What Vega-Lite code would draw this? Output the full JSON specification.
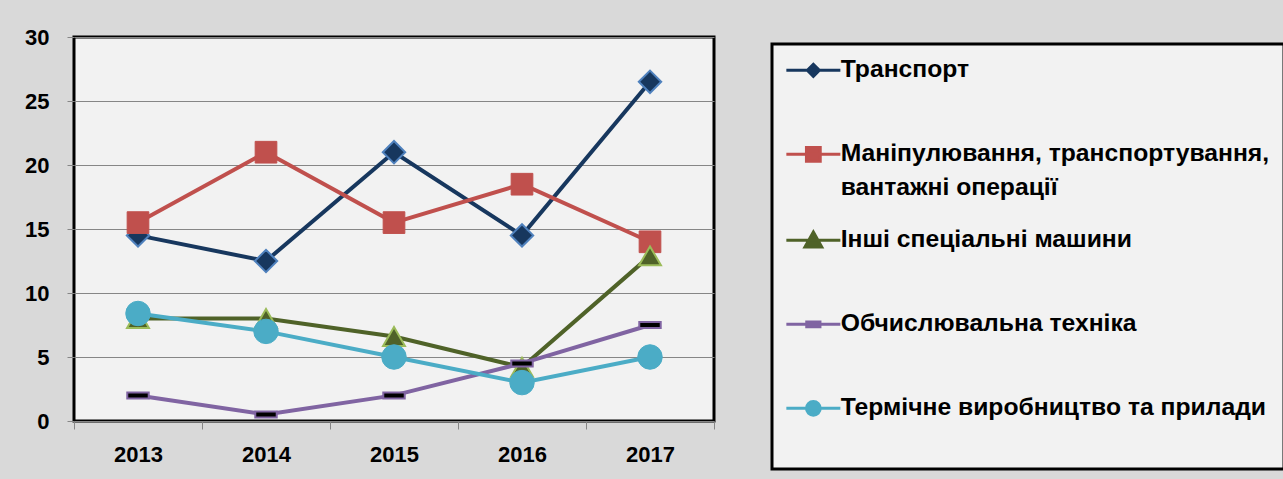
{
  "$schema": "https://vega.github.io/schema/vega-lite/v6.json",
  "autosize": "none",
  "width": 640,
  "height": 384,
  "padding": {"left": 74, "top": 37, "right": 569, "bottom": 58},
  "background": "#d9d9d9",
  "config": {
    "view": {"fill": "#f2f2f2", "stroke": "#000000", "strokeWidth": 3},
    "legend": {"strokeWidth": 3}
  },
  "data": {
    "values": [
      {"year": "2013", "series": "Транспорт", "value": 14.5},
      {"year": "2014", "series": "Транспорт", "value": 12.5},
      {"year": "2015", "series": "Транспорт", "value": 21},
      {"year": "2016", "series": "Транспорт", "value": 14.5},
      {"year": "2017", "series": "Транспорт", "value": 26.5},
      {"year": "2013", "series": "Маніпулювання, транспортування, вантажні операції", "value": 15.5},
      {"year": "2014", "series": "Маніпулювання, транспортування, вантажні операції", "value": 21},
      {"year": "2015", "series": "Маніпулювання, транспортування, вантажні операції", "value": 15.5},
      {"year": "2016", "series": "Маніпулювання, транспортування, вантажні операції", "value": 18.5},
      {"year": "2017", "series": "Маніпулювання, транспортування, вантажні операції", "value": 14},
      {"year": "2013", "series": "Інші спеціальні машини", "value": 8},
      {"year": "2014", "series": "Інші спеціальні машини", "value": 8},
      {"year": "2015", "series": "Інші спеціальні машини", "value": 6.6},
      {"year": "2016", "series": "Інші спеціальні машини", "value": 4.2},
      {"year": "2017", "series": "Інші спеціальні машини", "value": 12.9},
      {"year": "2013", "series": "Обчислювальна техніка", "value": 2},
      {"year": "2014", "series": "Обчислювальна техніка", "value": 0.5},
      {"year": "2015", "series": "Обчислювальна техніка", "value": 2},
      {"year": "2016", "series": "Обчислювальна техніка", "value": 4.5},
      {"year": "2017", "series": "Обчислювальна техніка", "value": 7.5},
      {"year": "2013", "series": "Термічне виробництво та прилади", "value": 8.4},
      {"year": "2014", "series": "Термічне виробництво та прилади", "value": 7},
      {"year": "2015", "series": "Термічне виробництво та прилади", "value": 5},
      {"year": "2016", "series": "Термічне виробництво та прилади", "value": 3},
      {"year": "2017", "series": "Термічне виробництво та прилади", "value": 5}
    ]
  },
  "encoding": {
    "x": {
      "field": "year", "type": "ordinal",
      "scale": {"type": "band", "paddingInner": 0, "paddingOuter": 0},
      "axis": {
        "title": null, "domain": false, "labelAngle": 0,
        "tickBand": "extent", "tickColor": "#868686", "tickSize": 8, "tickWidth": 1,
        "labelFont": "Liberation Sans", "labelFontSize": 22, "labelFontWeight": "bold",
        "labelColor": "#000000", "labelPadding": 15
      }
    },
    "y": {
      "field": "value", "type": "quantitative",
      "scale": {"domain": [0, 30], "nice": false, "zero": true},
      "axis": {
        "title": null, "domain": false, "values": [0, 5, 10, 15, 20, 25, 30],
        "grid": true, "gridColor": "#868686", "gridWidth": 1,
        "tickColor": "#868686", "tickSize": 7, "tickWidth": 1,
        "labelFont": "Liberation Sans", "labelFontSize": 22, "labelFontWeight": "bold",
        "labelColor": "#000000", "labelPadding": 18
      }
    }
  },
  "layer": [
    {
      "mark": {"type": "line", "strokeWidth": 4},
      "encoding": {
        "stroke": {
          "field": "series", "type": "nominal",
          "scale": {
            "domain": ["Транспорт", "Маніпулювання, транспортування, вантажні операції", "Інші спеціальні машини", "Обчислювальна техніка", "Термічне виробництво та прилади"],
            "range": ["#17375e", "#c0504d", "#4f6228", "#8064a2", "#4bacc6"]
          },
          "legend": {
            "title": null, "orient": "none", "legendX": 698, "legendY": 7,
            "padding": 14, "rowPadding": 24,
            "fillColor": "#f2f2f2", "strokeColor": "#000000",
            "labelFont": "Liberation Sans", "labelFontSize": 24.7, "labelFontWeight": "bold",
            "labelColor": "#000000", "labelLimit": 700, "labelOffset": 30,
            "symbolSize": 144, "symbolStrokeWidth": 3, "symbolOpacity": 1,
            "labelExpr": "datum.label == 'Маніпулювання, транспортування, вантажні операції' ? ['Маніпулювання, транспортування,', 'вантажні операції'] : [datum.label, '']",
            "encode": {"labels": {"update": {"lineHeight": {"value": 34}}}}
          }
        }
      }
    },
    {
      "transform": [{"filter": "false"}],
      "mark": {"type": "point", "filled": true, "opacity": 1},
      "encoding": {
        "fill": {
          "field": "series", "type": "nominal",
          "scale": {
            "domain": ["Транспорт", "Маніпулювання, транспортування, вантажні операції", "Інші спеціальні машини", "Обчислювальна техніка", "Термічне виробництво та прилади"],
            "range": ["#17375e", "#c0504d", "#4f6228", "#000000", "#4bacc6"]
          },
          "legend": {
            "title": null, "orient": "none", "legendX": 698, "legendY": 7,
            "padding": 14, "rowPadding": 24,
            "fillColor": "#f2f2f2", "strokeColor": "#000000",
            "labelFont": "Liberation Sans", "labelFontSize": 24.7, "labelFontWeight": "bold",
            "labelColor": "#000000", "labelLimit": 700, "labelOffset": 30,
            "symbolSize": 144, "symbolStrokeWidth": 3, "symbolOpacity": 1,
            "labelExpr": "datum.label == 'Маніпулювання, транспортування, вантажні операції' ? ['Маніпулювання, транспортування,', 'вантажні операції'] : [datum.label, '']",
            "encode": {"labels": {"update": {"lineHeight": {"value": 34}}}}
          }
        },
        "stroke": {"field": "series", "type": "nominal"},
        "shape": {
          "field": "series", "type": "nominal",
          "scale": {
            "domain": ["Транспорт", "Маніпулювання, транспортування, вантажні операції", "Інші спеціальні машини", "Обчислювальна техніка", "Термічне виробництво та прилади"],
            "range": [
              "M-2,0H7M1.5,0L2.5,-1L3.5,0L2.5,1Z",
              "M-2,0H7M1.35,-1.15H3.65V1.15H1.35Z",
              "M-2,0H7M2.5,-1.4L3.9,1.1H1.1Z",
              "M-2,0H7M1.4,-0.4H3.6V0.4H1.4Z",
              "M-2,0H7M3.65,0A1.15,1.15,0,1,1,1.35,0A1.15,1.15,0,1,1,3.65,0Z"
            ]
          },
          "legend": {
            "title": null, "orient": "none", "legendX": 698, "legendY": 7,
            "padding": 14, "rowPadding": 24,
            "fillColor": "#f2f2f2", "strokeColor": "#000000",
            "labelFont": "Liberation Sans", "labelFontSize": 24.7, "labelFontWeight": "bold",
            "labelColor": "#000000", "labelLimit": 700, "labelOffset": 30,
            "symbolSize": 144, "symbolStrokeWidth": 3, "symbolOpacity": 1,
            "labelExpr": "datum.label == 'Маніпулювання, транспортування, вантажні операції' ? ['Маніпулювання, транспортування,', 'вантажні операції'] : [datum.label, '']",
            "encode": {"labels": {"update": {"lineHeight": {"value": 34}}}}
          }
        }
      }
    },
    {
      "transform": [{"filter": "datum.series == 'Транспорт'"}],
      "mark": {"type": "point", "shape": "diamond", "filled": true, "size": 500, "fill": "#17375e", "stroke": "#4f81bd", "strokeWidth": 2, "opacity": 1}
    },
    {
      "transform": [{"filter": "datum.series == 'Маніпулювання, транспортування, вантажні операції'"}],
      "mark": {"type": "point", "shape": "square", "filled": true, "size": 470, "fill": "#c0504d", "stroke": "#c0504d", "strokeWidth": 1, "opacity": 1}
    },
    {
      "transform": [{"filter": "datum.series == 'Інші спеціальні машини'"}],
      "mark": {"type": "point", "shape": "triangle-up", "filled": true, "size": 480, "fill": "#4f6228", "stroke": "#9bbb59", "strokeWidth": 2, "opacity": 1}
    },
    {
      "transform": [{"filter": "datum.series == 'Обчислювальна техніка'"}],
      "mark": {"type": "point", "shape": "M-1,-0.28H1V0.28H-1Z", "filled": true, "size": 460, "fill": "#000000", "stroke": "#8064a2", "strokeWidth": 2, "opacity": 1}
    },
    {
      "transform": [{"filter": "datum.series == 'Термічне виробництво та прилади'"}],
      "mark": {"type": "point", "shape": "circle", "filled": true, "size": 600, "fill": "#4bacc6", "stroke": "#4bacc6", "strokeWidth": 1, "opacity": 1}
    }
  ]
}
